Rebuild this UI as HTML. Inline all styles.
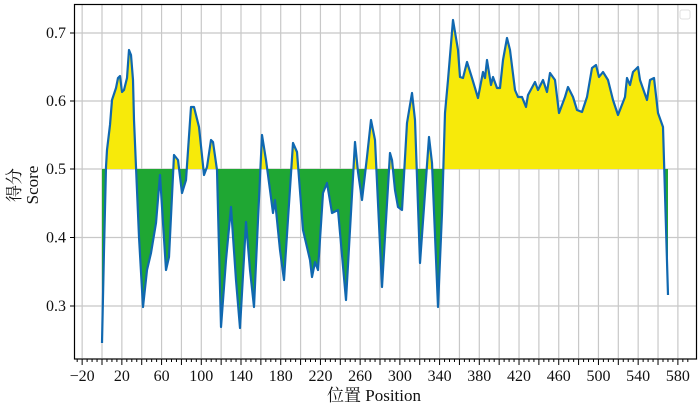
<!DOCTYPE html>
<html><head><meta charset="utf-8"><style>
body{margin:0;background:#fff;width:700px;height:407px;overflow:hidden}
svg{display:block;font-family:"Liberation Serif","Noto Serif CJK SC",serif}
</style></head><body>
<svg width="700" height="407" viewBox="0 0 700 407" xmlns="http://www.w3.org/2000/svg">
<defs>
<clipPath id="up"><rect x="0" y="0" width="700" height="169"/></clipPath>
<clipPath id="dn"><rect x="0" y="169" width="700" height="240"/></clipPath>
</defs>
<g stroke="#c8c8c8" stroke-width="1.2" id="grid"></g>
<g id="fills"></g>
<rect x="680" y="10" width="10" height="9" rx="2" fill="none" stroke="#e0e0e0"/>
<rect x="74.5" y="4.5" width="622" height="354.5" fill="none" stroke="#000" stroke-width="1.2"/>
<g id="ticks" stroke="#000" stroke-width="1"></g>
<g id="labels" font-size="16" fill="#111"></g>
<text x="374" y="401" font-size="17" text-anchor="middle" fill="#111">位置 Position</text>
<text transform="translate(20,185) rotate(-90)" font-size="17" text-anchor="middle" fill="#111">得分</text>
<text transform="translate(38,185) rotate(-90)" font-size="17" text-anchor="middle" fill="#111">Score</text>
</svg>
<script>
const NS="http://www.w3.org/2000/svg";
function el(t,a,p){const e=document.createElementNS(NS,t);for(const k in a)e.setAttribute(k,a[k]);p.appendChild(e);return e;}
const X=v=>102+v*0.9929;
const grid=document.getElementById('grid'),ticks=document.getElementById('ticks'),labels=document.getElementById('labels');
for(let v=-20;v<=580;v+=20){const x=X(v);el('line',{x1:x,y1:5,x2:x,y2:358},grid);}
[[33,'0.7'],[101,'0.6'],[169,'0.5'],[237.5,'0.4'],[306,'0.3']].forEach(([y,t])=>{
 el('line',{x1:75,y1:y,x2:696,y2:y},grid);
 el('line',{x1:70,y1:y,x2:75,y2:y},ticks);
 const tx=el('text',{x:66,y:y+5,'text-anchor':'end'},labels);tx.textContent=t;});
for(let v=-25;v<=590;v+=5){const x=X(v);if(x<75||x>696)continue;const major=(v%20===0);
 el('line',{x1:x,y1:359,x2:x,y2:major?365:362},ticks);}
for(let v=-20;v<=580;v+=40){const tx=el('text',{x:X(v),y:381,'text-anchor':'middle'},labels);tx.textContent=(v<0?'−':'')+Math.abs(v);}
const pts=[[102,343],[104,250],[106,167],[107,150],[110,125],[112,100],[116,88],[118,78],[120,76],[122,92],[124,90],[127,78],[129,50],[131,55],[133,80],[134,120],[136,167],[139,237],[143,307],[147,270],[151,253],[156,223],[160,175],[166,270],[169,257],[174,155],[178,160],[182,193],[186,180],[191,107],[194,107],[199,127],[204,175],[207,167],[211,140],[213,142],[217,170],[221,327],[226,260],[231,207],[236,280],[240,328],[246,222],[250,270],[254,307],[258,220],[262,135],[266,160],[270,190],[273,213],[275,200],[280,250],[284,280],[293,143],[297,152],[303,230],[310,260],[312,277],[315,262],[318,270],[323,193],[327,183],[332,213],[338,210],[346,300],[355,142],[358,172],[362,200],[367,157],[371,120],[375,140],[382,287],[390,153],[392,160],[395,190],[398,207],[402,210],[407,123],[412,93],[415,120],[420,263],[429,137],[432,163],[438,307],[442,213],[445,113],[448,80],[453,20],[458,50],[460,77],[463,78],[467,62],[472,78],[478,98],[483,72],[485,78],[487,60],[491,85],[493,77],[497,88],[500,88],[503,60],[507,38],[510,50],[515,90],[518,97],[522,97],[526,107],[528,95],[535,82],[538,90],[543,80],[547,92],[550,73],[555,80],[559,113],[565,97],[568,87],[573,97],[577,110],[582,112],[587,97],[592,68],[596,65],[599,77],[603,72],[608,80],[613,100],[618,115],[625,97],[627,78],[630,85],[633,72],[638,67],[640,80],[647,100],[650,80],[654,78],[658,113],[663,127],[668,295]];
const line=pts.map(p=>p.join(',')).join(' ');
const poly='102,169 '+line+' 668,169';
const f=document.getElementById('fills');
el('polygon',{points:poly,fill:'#f7ea0a','clip-path':'url(#up)'},f);
el('polygon',{points:poly,fill:'#1fa733','clip-path':'url(#dn)'},f);
el('polyline',{points:line,fill:'none',stroke:'#1068b0','stroke-width':2.2,'stroke-linejoin':'round'},f);
</script>
</body></html>
